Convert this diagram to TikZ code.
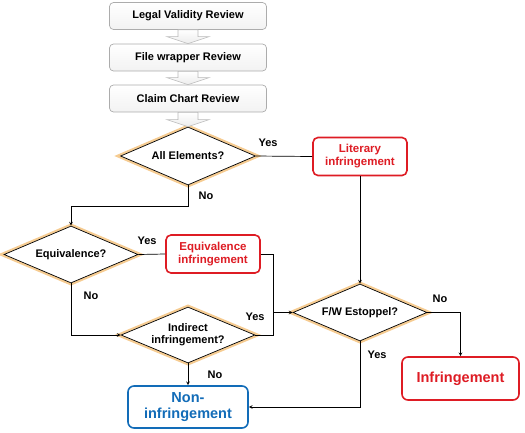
\documentclass[tikz,border=0pt]{standalone}
\usepackage{fontspec}
\setmainfont{Liberation Sans}
\usetikzlibrary{arrows.meta}
\usetikzlibrary{shapes.geometric, positioning, calc}
\definecolor{glow}{RGB}{246,204,146}
\definecolor{infred}{RGB}{222,28,36}
\definecolor{nonblue}{RGB}{18,108,184}
\tikzset{
    review/.style={draw=gray!65, rounded corners=4pt, top color=white, bottom color=gray!10,
        minimum width=157pt, minimum height=27pt, font=\bfseries\fontsize{11}{12}\selectfont},
    decision/.style={diamond, aspect=2.4, draw, line width=0.7pt, preaction={draw=glow, line width=5pt},
        fill=white, inner sep=0pt, align=center, font=\bfseries\fontsize{11}{12}\selectfont},
    redbox/.style={draw=infred, line width=1.6pt, rounded corners=5pt, fill=white, text=infred,
        align=center, minimum width=94pt, minimum height=38pt, font=\bfseries\fontsize{11.5}{13}\selectfont},
    result/.style={draw=#1, line width=1.6pt, rounded corners=6pt, fill=white, text=#1,
        align=center, font=\bfseries\fontsize{14.5}{16.5}\selectfont},
    lbl/.style={font=\bfseries\fontsize{11}{12}\selectfont},
    blockarr/.style={draw=gray!55, line width=0.6pt, top color=white, bottom color=gray!15},
}
\newcommand{\blockarrow}[2]{%
    \draw[blockarr] ($(#1.south)+(-10,0)$) -- ($(#2.north)+(-10,-7)$) -- ($(#2.north)+(-21,-7)$)
        -- (#2.north) -- ($(#2.north)+(21,-7)$) -- ($(#2.north)+(10,-7)$) -- ($(#1.south)+(10,0)$) -- cycle;}

\begin{document}
\begin{tikzpicture}[x=1pt, y=-1pt, >=stealth, line width=0.7pt]

    \useasboundingbox (0,0) rectangle (525,432);

    % Review steps
    \node[review] (legal) at (188,16) {Legal Validity Review};
    \node[review] (file) at (188,57.5) {File wrapper Review};
    \node[review] (claim) at (188,98.5) {Claim Chart Review};

    % Decisions
    \node[decision, minimum width=135pt, minimum height=58pt] (elem) at (188,156) {All Elements?};
    \node[decision, minimum width=134pt, minimum height=57pt] (equiv) at (71,254.5) {Equivalence?};
    \node[decision, minimum width=134pt, minimum height=56pt] (indir) at (188,335) {Indirect\\infringement?};
    \node[decision, minimum width=134pt, minimum height=57pt] (fw) at (360,312.5) {F/W Estoppel?};

    % Infringement types
    \node[redbox] (lit) at (360,156.5) {Literary\\infringement};
    \node[redbox] (eqinf) at (213,254) {Equivalence\\infringement};

    % Results
    \node[result=nonblue, minimum width=120pt, minimum height=42pt] (non) at (188,407) {Non-\\infringement};
    \node[result=infred, minimum width=117pt, minimum height=43pt] (inf) at (460.5,378.5) {Infringement};

    % Block arrows between review steps
    \blockarrow{legal}{file}
    \blockarrow{file}{claim}
    \blockarrow{claim}{elem}

    % Connectors
    \coordinate (join) at (273,312.5);
    \draw (elem.east) -- (lit.west);
    \draw[->] (lit.south) -- (fw.north);
    \draw[->] (elem.south) -- ++(0,21) -| (equiv.north);
    \draw (equiv.east) -- (eqinf.west);
    \draw (eqinf.east) -| (join);
    \draw (indir.east) -| (join);
    \draw[->] (join) -- (fw.west);
    \draw[->] (equiv.south) |- (indir.west);
    \draw[->] (indir.south) -- (non.north);
    \draw[->] (fw.east) -| (inf.north);
    \draw[->] (fw.south) |- (non.east);

    % Labels
    \node[lbl] (y1) at (268,143) {Yes};
    \node[lbl] (n1) at (206,196) {No};
    \node[lbl] (y2) at (147,241) {Yes};
    \node[lbl] (n2) at (91,296) {No};
    \node[lbl] (y3) at (255,317) {Yes};
    \node[lbl] (n3) at (215,375) {No};
    \node[lbl] (n4) at (440,299) {No};
    \node[lbl] (y4) at (377,355) {Yes};

\end{tikzpicture}
\end{document}
